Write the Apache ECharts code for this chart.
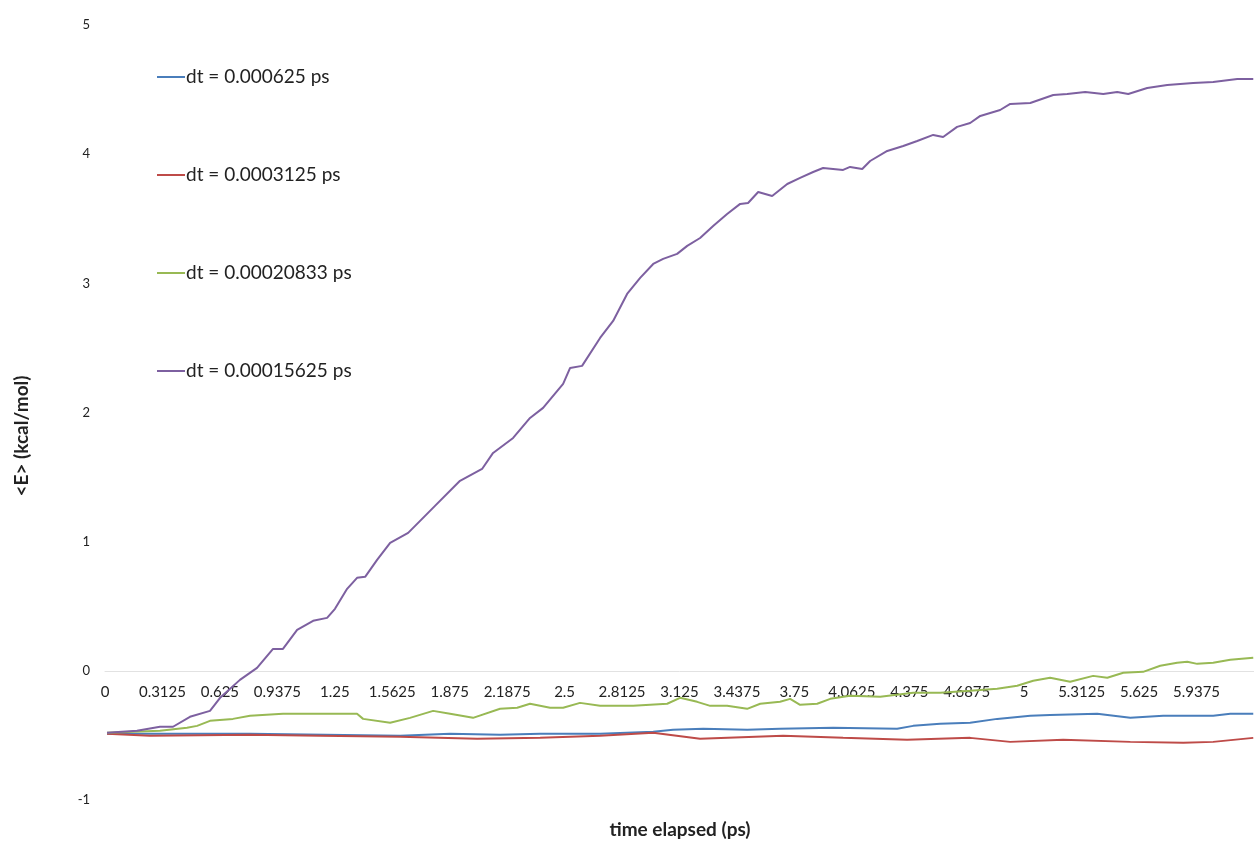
<!DOCTYPE html>
<html>
<head>
<meta charset="utf-8">
<script src="https://cdn.jsdelivr.net/npm/echarts@6/dist/echarts.min.js"></script>
<style>
  html, body { margin: 0; padding: 0; background: #fff; }
  #chart { width: 1254px; height: 843px; }
</style>
</head>
<body>
<div id="chart"></div>
<script>
// series names (legend order)
const names = ['dt = 0.000625 ps', 'dt = 0.0003125 ps', 'dt = 0.00020833 ps', 'dt = 0.00015625 ps'];
const colors = ['#4a7ebb', '#be4b48', '#98b954', '#7d60a0'];

// [time (ps), <E> (kcal/mol)]
const blue = [
  [0.011, -0.488], [0.789, -0.488], [1.605, -0.503], [1.877, -0.488], [2.149, -0.495],
  [2.367, -0.488], [2.693, -0.488], [2.982, -0.472], [3.090, -0.457], [3.254, -0.449],
  [3.493, -0.457], [3.672, -0.449], [3.961, -0.441], [4.309, -0.449], [4.396, -0.426],
  [4.543, -0.410], [4.706, -0.402], [4.853, -0.372], [5.033, -0.348], [5.141, -0.341],
  [5.397, -0.333], [5.577, -0.364], [5.756, -0.348], [6.028, -0.348], [6.121, -0.333],
  [6.246, -0.333]
];
const red = [
  [0.011, -0.488], [0.245, -0.503], [0.789, -0.495], [1.170, -0.503], [1.605, -0.511],
  [2.024, -0.526], [2.367, -0.519], [2.693, -0.503], [2.982, -0.480], [3.237, -0.526],
  [3.689, -0.503], [4.015, -0.519], [4.363, -0.534], [4.706, -0.519], [4.924, -0.550],
  [5.212, -0.534], [5.577, -0.550], [5.865, -0.557], [6.028, -0.550], [6.246, -0.519]
];
const green = [
  [0.011, -0.480], [0.299, -0.464], [0.446, -0.441], [0.501, -0.426], [0.571, -0.387],
  [0.696, -0.372], [0.789, -0.348], [0.968, -0.333], [1.240, -0.333], [1.371, -0.333],
  [1.404, -0.372], [1.551, -0.402], [1.659, -0.364], [1.785, -0.310], [1.877, -0.333],
  [2.002, -0.364], [2.149, -0.294], [2.242, -0.286], [2.312, -0.255], [2.421, -0.286],
  [2.492, -0.286], [2.584, -0.248], [2.693, -0.271], [2.873, -0.271], [3.058, -0.255],
  [3.128, -0.209], [3.221, -0.240], [3.292, -0.271], [3.384, -0.271], [3.493, -0.294],
  [3.564, -0.255], [3.672, -0.240], [3.727, -0.217], [3.781, -0.263], [3.874, -0.255],
  [3.945, -0.217], [4.053, -0.193], [4.217, -0.201], [4.396, -0.170], [4.543, -0.170],
  [4.706, -0.155], [4.853, -0.139], [4.962, -0.116], [5.049, -0.077], [5.141, -0.054],
  [5.250, -0.085], [5.375, -0.039], [5.452, -0.054], [5.539, -0.015], [5.647, -0.008],
  [5.740, 0.039], [5.832, 0.062], [5.887, 0.070], [5.941, 0.054], [6.028, 0.062],
  [6.121, 0.085], [6.246, 0.101]
];
const purple = [
  [0.011, -0.480], [0.174, -0.464], [0.299, -0.433], [0.370, -0.433], [0.462, -0.356],
  [0.571, -0.310], [0.626, -0.209], [0.734, -0.070], [0.827, 0.023], [0.914, 0.170],
  [0.968, 0.170], [1.045, 0.317], [1.132, 0.387], [1.208, 0.410], [1.251, 0.480],
  [1.317, 0.635], [1.371, 0.720], [1.415, 0.728], [1.480, 0.859], [1.551, 0.991],
  [1.649, 1.068], [1.714, 1.161], [1.795, 1.277], [1.931, 1.471], [2.051, 1.563],
  [2.111, 1.687], [2.220, 1.803], [2.312, 1.958], [2.383, 2.036], [2.492, 2.221],
  [2.530, 2.345], [2.595, 2.361], [2.693, 2.577], [2.764, 2.709], [2.840, 2.918],
  [2.911, 3.042], [2.982, 3.150], [3.036, 3.189], [3.112, 3.228], [3.167, 3.290],
  [3.237, 3.351], [3.308, 3.444], [3.384, 3.537], [3.455, 3.615], [3.498, 3.622],
  [3.553, 3.707], [3.629, 3.676], [3.711, 3.769], [3.781, 3.816], [3.852, 3.862],
  [3.906, 3.893], [4.015, 3.878], [4.053, 3.901], [4.119, 3.885], [4.162, 3.947],
  [4.255, 4.025], [4.342, 4.063], [4.418, 4.102], [4.505, 4.149], [4.559, 4.133],
  [4.635, 4.211], [4.706, 4.241], [4.761, 4.296], [4.869, 4.342], [4.924, 4.389],
  [5.033, 4.396], [5.158, 4.458], [5.234, 4.466], [5.332, 4.481], [5.430, 4.466],
  [5.506, 4.481], [5.566, 4.466], [5.669, 4.512], [5.778, 4.536], [5.919, 4.551],
  [6.028, 4.559], [6.159, 4.582], [6.246, 4.582]
];
const seriesData = [blue, red, green, purple];

// axis settings
const xMin = 0, xMax = 6.25, xStep = 0.3125;
const yMin = -1, yMax = 5, yStep = 1;
const legendTops = [60, 158, 256, 354];

const gridTop = 25, gridBottom = 43, chartH = 843;
// shift the x axis up from the grid bottom to the y = 0 line
const zeroShift = (chartH - gridTop - gridBottom) * (0 - yMin) / (yMax - yMin);

const chart = echarts.init(document.getElementById('chart'));

const option = {
  backgroundColor: '#fff',
  animation: false,
  textStyle: { fontFamily: 'Lato, "Open Sans", sans-serif' },
  grid: { left: 105, right: 0, top: gridTop, bottom: gridBottom, containLabel: false },
  legend: names.map((n, i) => ({
    data: [n],
    orient: 'vertical',
    left: 152,
    top: legendTops[i],
    icon: 'rect',
    itemWidth: 28,
    itemHeight: 2,
    selectedMode: false,
    textStyle: { fontSize: 19, color: '#222', lineHeight: 24, padding: [0, 0, 0, -4] }
  })),
  xAxis: {
    type: 'value',
    position: 'bottom',
    offset: -zeroShift,
    min: xMin,
    max: xMax,
    interval: xStep,
    axisLine: { onZero: false, lineStyle: { color: '#e2e2e2', width: 1 } },
    axisTick: { show: false },
    splitLine: { show: false },
    axisLabel: {
      fontSize: 15,
      color: '#222',
      margin: 14,
      showMaxLabel: false,
      formatter: v => (v > 6 ? '' : String(+v.toFixed(4)))
    }
  },
  yAxis: {
    type: 'value',
    min: yMin,
    max: yMax,
    interval: yStep,
    axisLine: { show: false },
    axisTick: { show: false },
    splitLine: { show: false },
    axisLabel: { fontSize: 13, color: '#222', margin: 15 }
  },
  graphic: [
    {
      type: 'text',
      x: 22,
      y: 436,
      rotation: Math.PI / 2,
      style: {
        text: '<E> (kcal/mol)',
        font: 'bold 19px Lato, "Open Sans", sans-serif',
        fill: '#222',
        align: 'center',
        verticalAlign: 'middle'
      }
    },
    {
      type: 'text',
      x: 680,
      y: 830,
      style: {
        text: 'time elapsed (ps)',
        font: 'bold 19px Lato, "Open Sans", sans-serif',
        fill: '#222',
        align: 'center',
        verticalAlign: 'middle'
      }
    }
  ],
  series: names.map((n, i) => ({
    name: n,
    type: 'line',
    data: seriesData[i],
    showSymbol: false,
    symbol: 'none',
    color: colors[i],
    lineStyle: { width: 2, color: colors[i] },
    clip: true
  }))
};

chart.setOption(option);
</script>
</body>
</html>
